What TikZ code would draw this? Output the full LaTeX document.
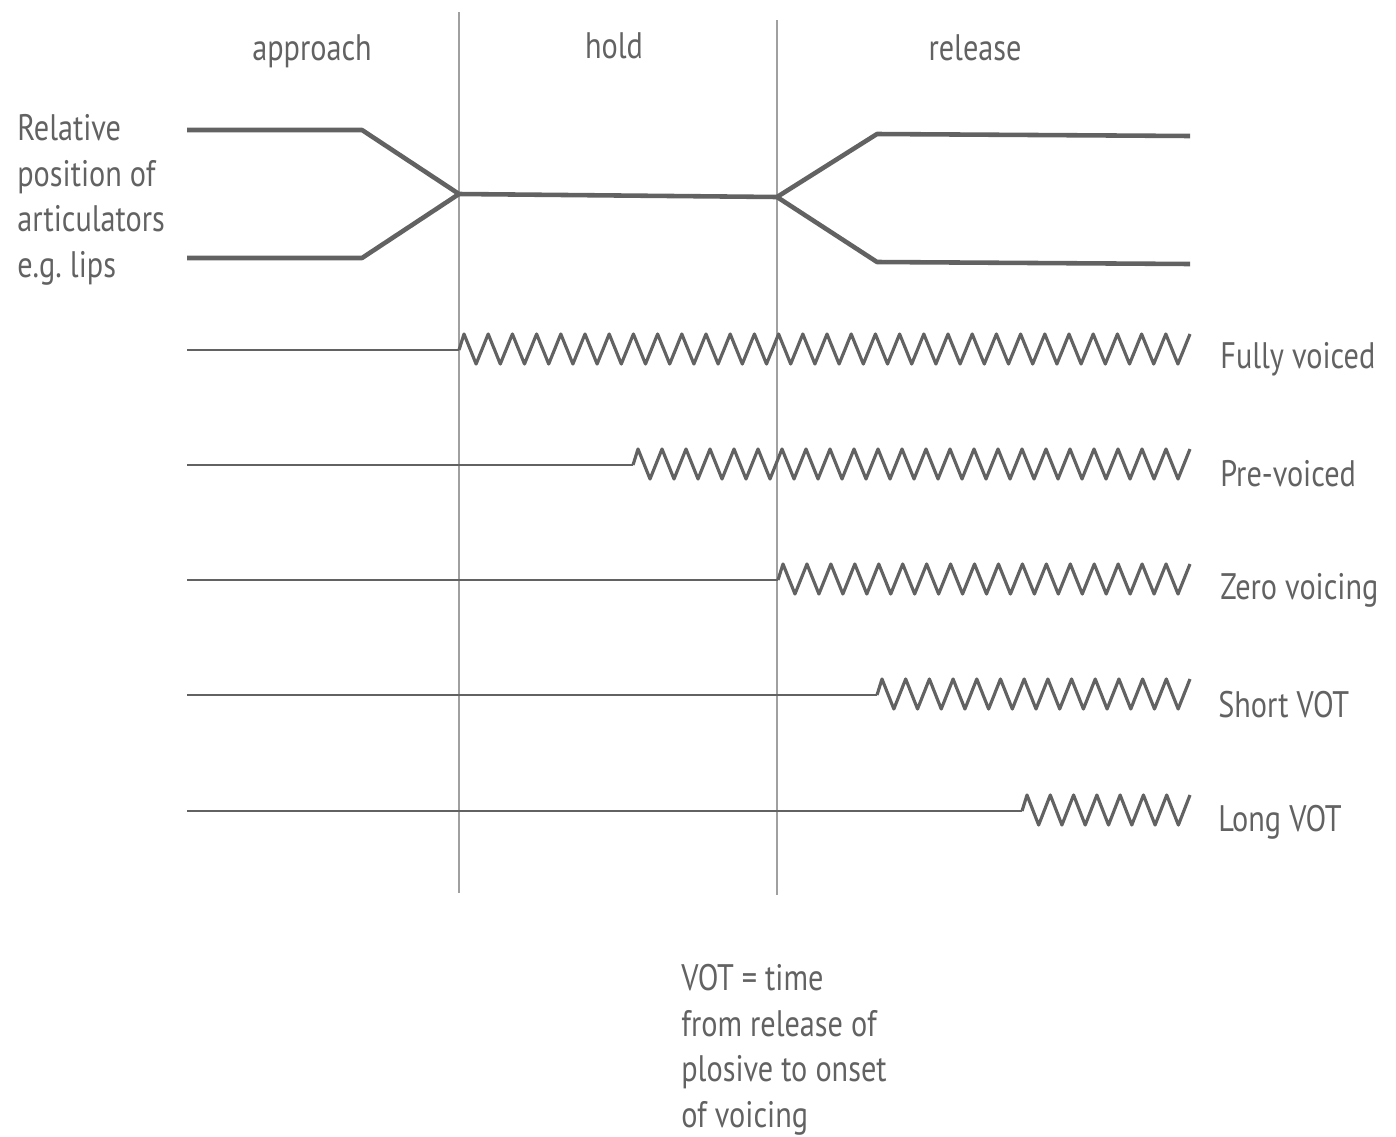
\documentclass[tikz,border=0pt]{standalone}
\usepackage{fontspec}
\setmainfont{PT Sans}[FakeStretch=0.82]
\frenchspacing
\definecolor{ink}{HTML}{626262}
\definecolor{rule}{HTML}{A0A0A0}
\begin{document}
\begin{tikzpicture}[x=0.02cm,y=-0.02cm,
  lbl/.style={text=ink,inner sep=0pt,font=\fontsize{21}{26}\selectfont},
  artic/.style={draw=ink,line width=2.6pt,line join=round},
  row/.style={draw=ink,line width=1.6pt},
  wave/.style={draw=ink,line width=1.8pt,line join=round},
  divider/.style={draw=rule,line width=0.8pt}]
\useasboundingbox (0,0) rectangle (1396,1136);
\newcommand\zigrow[5]{% y, line start, zig start, zig end, n
  \pgfmathsetmacro\zp{(#4-#3-5)/#5}
  \draw[row] (#2,#1) -- (#3,#1);
  \draw[wave] (#3,#1) -- (#3+5,#1-16)
    foreach \i in {1,...,#5} { -- ({#3+5+(\i-0.5)*\zp},#1+14) -- ({#3+5+\i*\zp},#1-16) };
}
% dividers
\draw[divider] (459,12) -- (459,893);
\draw[divider] (777,20) -- (777,895);
% headers
\node[lbl,anchor=base] (approach) at (312,60) {approach};
\node[lbl,anchor=base] (hold) at (614,58) {hold};
\node[lbl,anchor=base] (release) at (975,60) {release};
% articulators
\draw[artic] (187,130) -- (362,130) -- (459,194) -- (777,197) -- (877,134) -- (1190,136);
\draw[artic] (187,258) -- (362,258) -- (459,194);
\draw[artic] (777,197) -- (877,262) -- (1190,264);
\node[lbl,anchor=north west,align=left] (artlabel) at (17,114) {Relative\\position of\\articulators\\e.g. lips};
% voicing rows
\zigrow{350}{187}{459}{1190}{30}
\zigrow{465}{187}{633}{1190}{23}
\zigrow{580}{187}{778}{1190}{17}
\zigrow{695}{187}{877}{1190}{13}
\zigrow{811}{187}{1022}{1190}{7}
\node[lbl,anchor=base west] (fully) at (1220,368) {Fully voiced};
\node[lbl,anchor=base west] (pre) at (1220,486) {Pre-voiced};
\node[lbl,anchor=base west] (zero) at (1220,599) {Zero voicing};
\node[lbl,anchor=base west] (short) at (1218,717) {Short VOT};
\node[lbl,anchor=base west] (long) at (1218,831) {Long VOT};
% VOT note
\node[lbl,anchor=north west,align=left] (vot) at (681,964) {VOT = time\\from release of\\plosive to onset\\of voicing};
\end{tikzpicture}
\end{document}
